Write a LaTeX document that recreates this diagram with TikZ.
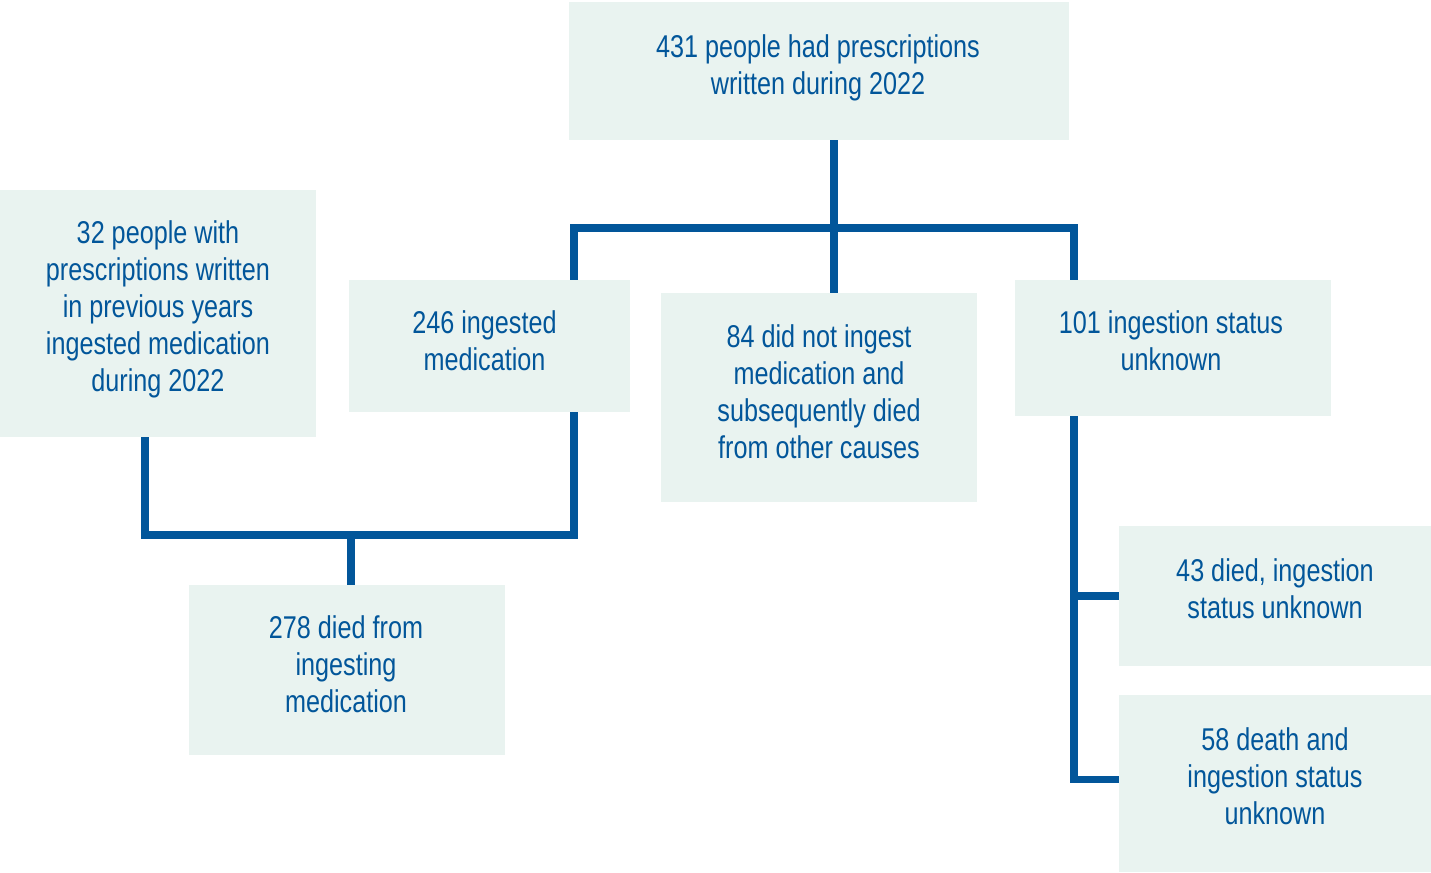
\documentclass[tikz,border=0pt]{standalone}
\usepackage{fontspec}
\setmainfont{Liberation Sans}[FakeStretch=0.8]
\definecolor{lineblue}{HTML}{02569A}
\definecolor{boxfill}{HTML}{E9F3F0}
\tikzset{
  box/.style={fill=boxfill, inner sep=0pt},
  txt/.style={inner sep=0pt, text=lineblue, align=center,
    font=\fontsize{31.5}{37}\selectfont},
  conn/.style={draw=lineblue, line width=7.7pt}
}
\begin{document}
\begin{tikzpicture}[x=1pt,y=-1pt]
\useasboundingbox (0,0) rectangle (1431,872);
\node[box, minimum width=500pt, minimum height=138pt] (top) at (819,71) {};
\node[box, minimum width=316pt, minimum height=247pt] (n32) at (158,313.5) {};
\node[box, minimum width=281pt, minimum height=132pt] (n246) at (489.5,346) {};
\node[box, minimum width=316pt, minimum height=209pt] (n84) at (819,397.5) {};
\node[box, minimum width=316pt, minimum height=136pt] (n101) at (1173,348) {};
\node[box, minimum width=316pt, minimum height=170pt] (n278) at (347,670) {};
\node[box, minimum width=312pt, minimum height=140pt] (n43) at (1275,596) {};
\node[box, minimum width=312pt, minimum height=177pt] (n58) at (1275,783.5) {};
\node[txt] (ttop) at (818,67.5) {431 people had prescriptions\\written during 2022};
\node[txt] (t32) at (158,309) {32 people with\\prescriptions written\\in previous years\\ingested medication\\during 2022};
\node[txt] (t246) at (484.5,341) {246 ingested\\medication};
\node[txt] (t84) at (819,391.5) {84 did not ingest\\medication and\\subsequently died\\from other causes};
\node[txt] (t101) at (1171,341) {101 ingestion status\\unknown};
\node[txt] (t278) at (346,664) {278 died from\\ingesting\\medication};
\node[txt] (t43) at (1275,589) {43 died, ingestion\\status unknown};
\node[txt] (t58) at (1275,776) {58 death and\\ingestion status\\unknown};
\coordinate (tx) at (834,0);
\coordinate (l) at (574,228);
\coordinate (r) at (1074,228);
\coordinate (lb) at (145,535);
\coordinate (rb) at (574,535);
\coordinate (mb) at (351,535);
\coordinate (rv) at (1074,596);
\coordinate (rv2) at (1074,779.5);
\draw[conn] (top.south -| tx) -- (n84.north -| tx);
\draw[conn] (n246.north -| l) -- (l) -- (r) -- (n101.north -| r);
\draw[conn] (n32.south -| lb) -- (lb) -- (rb) -- (n246.south -| rb);
\draw[conn] (mb) -- (n278.north -| mb);
\draw[conn] (n101.south -| rv) -- (rv2) -- (n58.west |- rv2);
\draw[conn] (rv) -- (n43.west |- rv);
\end{tikzpicture}
\end{document}
